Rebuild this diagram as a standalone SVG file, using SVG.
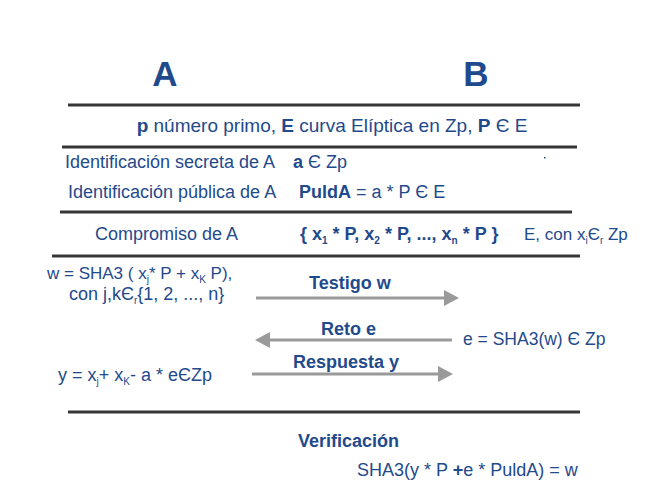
<svg xmlns="http://www.w3.org/2000/svg" width="667" height="503" viewBox="0 0 667 503">
<defs>
<style>
text{font-family:"Liberation Sans",Arial,sans-serif;fill:#1f4a8c;font-size:18px}
.b{font-weight:bold}
.big{font-size:35px;font-weight:bold}
.sub{font-size:10px}
.rule{stroke:#363636;stroke-width:3;fill:none}
.arr{stroke:#9a9a9a;stroke-width:3;fill:none}
.head{fill:#9a9a9a}
</style>
</defs>
<rect width="667" height="503" fill="#fff"/>
<g id="rules">
<line class="rule" x1="68" y1="105" x2="580" y2="105"/>
<line class="rule" x1="62" y1="147" x2="577" y2="147"/>
<line class="rule" x1="60" y1="212" x2="572" y2="212"/>
<line class="rule" x1="52" y1="256" x2="580" y2="256"/>
<line class="rule" x1="68" y1="412" x2="580" y2="412"/>
</g>
<g id="nodeA"><text class="big" x="165" y="86" text-anchor="middle">A</text></g>
<g id="nodeB"><text class="big" x="476" y="86" text-anchor="middle">B</text></g>
<g id="params"><text x="332" y="132" text-anchor="middle" style="font-size:19px"><tspan class="b">p</tspan> número primo, <tspan class="b">E</tspan> curva Elíptica en Zp, <tspan class="b">P</tspan> Є E</text></g>
<g id="secret"><text x="65" y="168">Identificación secreta de A</text><text x="293" y="168"><tspan class="b">a</tspan>  Є  Zp</text></g>
<rect x="544" y="157" width="1.5" height="1.5" fill="#1f4a8c"/>
<g id="public"><text x="68" y="198">Identificación pública de A</text><text x="299" y="198"><tspan class="b">PuldA</tspan> = a * P Є E</text></g>
<g id="commit"><text x="95" y="240">Compromiso de A</text>
<text x="300" y="240" class="b">{ x<tspan class="sub" dy="4">1</tspan><tspan dy="-4"> * P, x</tspan><tspan class="sub" dy="4">2</tspan><tspan dy="-4"> * P, ..., x</tspan><tspan class="sub" dy="4">n</tspan><tspan dy="-4"> * P }</tspan></text>
<text x="524" y="240" style="font-size:17px">E, con x<tspan class="sub" dy="4">i</tspan><tspan dy="-4">Є</tspan><tspan class="sub" dy="4">r</tspan><tspan dy="-4"> Zp</tspan></text></g>
<g id="witnessCalc"><text x="47" y="279" style="font-size:17px">w = SHA3 ( x<tspan class="sub" dy="4">j</tspan><tspan dy="-4">* P + x</tspan><tspan class="sub" dy="4">K</tspan><tspan dy="-4"> P),</tspan></text>
<text x="69" y="300">con j,kЄ<tspan class="sub" dy="4">r</tspan><tspan dy="-4">{1, 2, ..., n}</tspan></text></g>
<g id="challengeCalc"><text x="463" y="345" style="font-size:17.5px">e = SHA3(w) Є Zp</text></g>
<g id="responseCalc"><text x="58" y="381">y = x<tspan class="sub" dy="4">j</tspan><tspan dy="-4">+ x</tspan><tspan class="sub" dy="4">K</tspan><tspan dy="-4">- a * eЄZp</tspan></text></g>
<g id="verify"><text class="b" x="298" y="447">Verificación</text><text x="357" y="476">SHA3(y * P <tspan class="b">+</tspan>e * PuldA) = w</text></g>
<g id="connectors">
<line class="arr" x1="256" y1="298" x2="446" y2="298"/><polygon class="head" points="444,290 459,298 444,306"/>
<text class="b" x="309" y="289">Testigo w</text>
<line class="arr" x1="268" y1="340" x2="452" y2="340"/><polygon class="head" points="270,332 255,340 270,348"/>
<text class="b" x="321" y="335">Reto e</text>
<line class="arr" x1="252" y1="374" x2="440" y2="374"/><polygon class="head" points="438,366 453,374 438,382"/>
<text class="b" x="293" y="368">Respuesta y</text>
</g>
</svg>
